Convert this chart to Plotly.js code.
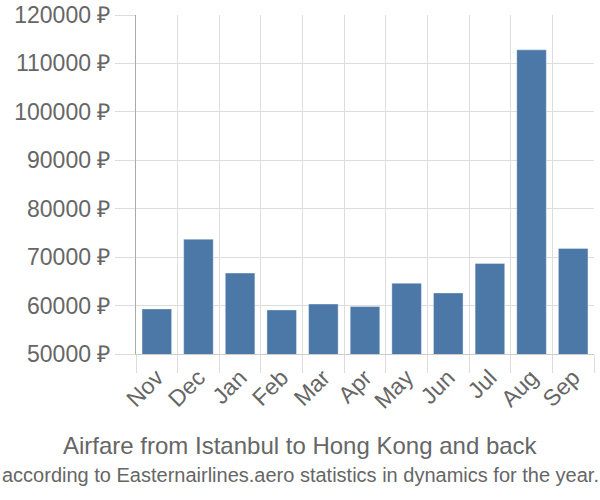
<!DOCTYPE html>
<html>
<head>
<meta charset="utf-8">
<script src="https://cdn.plot.ly/plotly-3.0.1.min.js"></script>
<style>html,body{margin:0;padding:0;background:#fff;}#chart{width:600px;height:500px;}</style>
</head>
<body>
<div id="chart"></div>
<script>
const months = ["Nov","Dec","Jan","Feb","Mar","Apr","May","Jun","Jul","Aug","Sep"];
const prices = [59300, 73700, 66700, 59100, 60300, 59800, 64600, 62600, 68700, 112800, 71800];
const yTicks = [50000, 60000, 70000, 80000, 90000, 100000, 110000, 120000];
const currency = "₽";
const titleText = "Airfare from Istanbul to Hong Kong and back";
const subtitleText = "according to Easternairlines.aero statistics in dynamics for the year.";

const font = "Liberation Sans, Arial, sans-serif";
Plotly.newPlot("chart", [{
  type: "bar",
  x: months,
  y: prices,
  marker: {color: "#4c78a8", line: {color: "rgba(255,255,255,0.35)", width: 1}},
  hoverinfo: "none"
}], {
  width: 600, height: 500,
  margin: {l: 136, r: 6, t: 14.5, b: 145.5},
  paper_bgcolor: "#fff", plot_bgcolor: "#fff",
  bargap: 0.29,
  showlegend: false,
  font: {family: font, color: "#666"},
  xaxis: {
    type: "category",
    tickson: "boundaries",
    showgrid: true, gridcolor: "#ddd", gridwidth: 1,
    ticks: "outside", ticklen: 18, tickcolor: "#ddd", tickwidth: 1,
    tickangle: -45,
    tickfont: {family: font, size: 23, color: "#666"},
    showline: true, linecolor: "#ccc", linewidth: 1,
    zeroline: false
  },
  yaxis: {
    range: [50000, 120000],
    tickmode: "array",
    tickvals: yTicks,
    ticktext: yTicks.map(v => v + " " + currency),
    showgrid: true, gridcolor: "#ddd", gridwidth: 1,
    ticks: "outside", ticklen: 20, tickcolor: "#ddd", tickwidth: 1,
    tickfont: {family: font, size: 23, color: "#666"},
    showline: true, linecolor: "#aaa", linewidth: 1,
    zeroline: false
  },
  annotations: [
    {text: titleText, xref: "paper", yref: "paper", x: (300-136)/458, y: -(446-354.5)/340,
     xanchor: "center", yanchor: "middle", showarrow: false,
     font: {family: font, size: 24, color: "#666"}},
    {text: subtitleText, xref: "paper", yref: "paper", x: (300-136)/458, y: -(476-354.5)/340,
     xanchor: "center", yanchor: "middle", showarrow: false,
     font: {family: font, size: 20, color: "#666"}}
  ]
}, {displayModeBar: false, staticPlot: true});
</script>
</body>
</html>
